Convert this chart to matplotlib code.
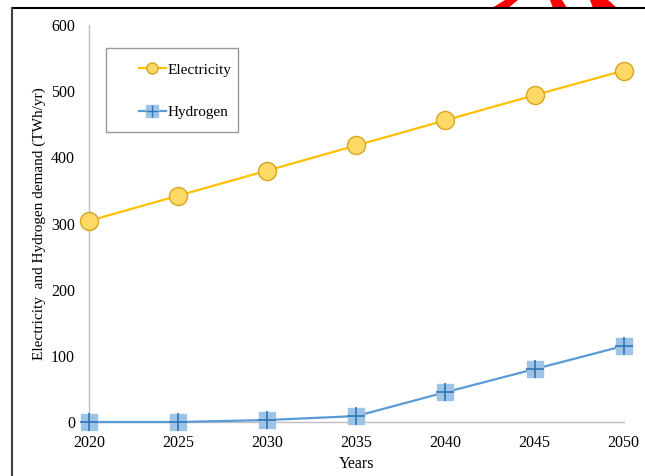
import numpy as np
import matplotlib
matplotlib.use('Agg')
import matplotlib.pyplot as plt
from matplotlib.lines import Line2D
from matplotlib.patches import Polygon
from matplotlib.legend_handler import HandlerLine2D

plt.rcParams['font.family'] = ['Liberation Serif', 'DejaVu Serif']

years = [2020, 2025, 2030, 2035, 2040, 2045, 2050]
electricity = [304, 342, 380, 418, 456, 494, 531]
hydrogen = [0, 0, 3, 9, 45, 80, 115]


class RightHandler(HandlerLine2D):
    # sample line on the right half of the handle box, centred on the text
    def get_xdata(self, legend, xdescent, ydescent, width, height, fontsize):
        x0 = -xdescent + 0.5 * width
        x1 = -xdescent + width
        return [x0, x1], [0.5 * (x0 + x1)]

    def create_artists(self, legend, orig_handle, xdescent, ydescent,
                       width, height, fontsize, trans):
        arts = super().create_artists(legend, orig_handle, xdescent, ydescent,
                                      width, height, fontsize, trans)
        for a in arts:
            a.set_ydata(np.full(len(a.get_xdata()), 0.35 * fontsize))
        return arts


fig = plt.figure(figsize=(6.45, 4.76), dpi=100)
ax = fig.add_axes([0.138, 0.1134, 0.829, 0.8341])

ax.plot(years, electricity, color='#FFC000', lw=1.6, marker='o', ms=13,
        mfc='#FFD966', mec='#D6A520', mew=1.0, clip_on=False, zorder=3,
        label='Electricity')
ax.plot(years, hydrogen, color='#5B9BD5', lw=1.6, marker='s', ms=12,
        mfc='#9DC3E6', mec='#9DC3E6', mew=1.0, clip_on=False, zorder=3,
        label='Hydrogen')
# dark cross drawn over each hydrogen square
ax.plot(years, hydrogen, ls='none', marker='+', ms=13, mew=1.2,
        color='#2E75B6', clip_on=False, zorder=4)

ax.set_xlim(2020, 2050)
ax.set_ylim(0, 600)
ax.set_xticks(years)
ax.set_yticks(np.arange(0, 601, 100))
ax.tick_params(length=0, labelsize=11.5)
ax.tick_params(axis='y', pad=10)
ax.tick_params(axis='x', pad=9)
for s in ['top', 'right']:
    ax.spines[s].set_visible(False)
for s in ['left', 'bottom']:
    ax.spines[s].set_color('#BFBFBF')
    ax.spines[s].set_linewidth(1.0)

ax.set_xlabel('Years', fontsize=11.5, labelpad=4)
ax.set_ylabel('Electricity  and Hydrogen demand (TWh/yr)', fontsize=11,
              labelpad=4)

h_el = Line2D([], [], color='#FFC000', lw=1.6, marker='o', ms=8,
              mfc='#FFD966', mec='#D6A520')
h_hy = Line2D([], [], color='#5B9BD5', lw=1.6, marker='s', ms=8,
              mfc='#9DC3E6', mec='#9DC3E6')
h_hy_cross = Line2D([], [], ls='none', marker='+', ms=8, mew=1.0,
                    color='#2E75B6')
leg = ax.legend([h_el, (h_hy, h_hy_cross)], ['Electricity', 'Hydrogen'],
                handler_map={Line2D: RightHandler()},
                loc='upper left', bbox_to_anchor=(0.032, 0.942), fontsize=11,
                frameon=True, fancybox=False, labelspacing=0.85,
                handleheight=2.6, handlelength=3.5, handletextpad=0.15,
                borderpad=0.4, borderaxespad=0)
leg.get_frame().set_edgecolor('#808080')
leg.get_frame().set_linewidth(1.0)

W, H = 645, 476


def fx(x):
    return x / W


def fy(y):
    return 1 - y / H


# outer frame
fig.add_artist(Line2D([fx(12), 1], [fy(8), fy(8)],
                      color='black', lw=1.5, transform=fig.transFigure))
fig.add_artist(Line2D([fx(12), fx(12)], [0, fy(8)],
                      color='#404040', lw=1.5, transform=fig.transFigure))

# red strokes above the frame
strokes = [
    [(492, 8), (508, 8), (518, 0), (505, 0)],
    [(553, 8), (567, 8), (562, 0), (550, 0)],
    [(593, 8), (617, 8), (608, 0), (590, 0)],
]
for pts in strokes:
    fig.add_artist(Polygon([(fx(x), fy(y)) for x, y in pts], closed=True,
                           color='red', lw=0, transform=fig.transFigure))

fig.savefig('out.png', dpi=100)
